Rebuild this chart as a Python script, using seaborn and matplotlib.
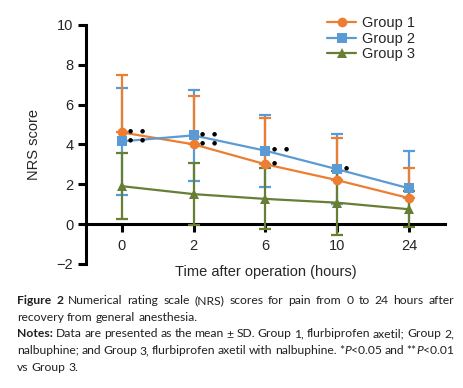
import matplotlib
matplotlib.use('Agg')
import matplotlib.pyplot as plt
import numpy as np
import pandas as pd
import seaborn as sns

# data (mean and SD of NRS score)
times = ['0', '2', '6', '10', '24']
groups = ['Group 1', 'Group 2', 'Group 3']
g1_mean = [4.6, 4.0, 3.0, 2.2, 1.3]
g1_sd = [2.9, 2.45, 2.3, 2.1, 1.5]
g2_mean = [4.15, 4.45, 3.68, 2.75, 1.79]
g2_sd = [2.67, 2.3, 1.8, 1.75, 1.9]
g3_mean = [1.9, 1.5, 1.26, 1.07, 0.74]
g3_sd = [1.65, 1.55, 1.53, 1.6, 0.9]
# significance vs group 3
stars_g1 = ['**', '**', '*', '', '']
stars_g2 = ['**', '**', '**', '*', '']

orange = '#ED7D31'
blue = '#5B9BD5'
green = '#667F35'

sns.set_style('ticks')
plt.rcParams['font.family'] = ['Liberation Sans', 'DejaVu Sans']

fig = plt.figure(figsize=(4.64, 3.88), dpi=100)
ax = fig.add_axes([0.185, 0.320, 0.774, 0.616])

pos = np.arange(len(times))

# error bars (group 1 only drawn above)
ax.errorbar(pos, g2_mean, yerr=g2_sd, fmt='none', ecolor=blue, elinewidth=1.6,
            capsize=4, capthick=1.6, zorder=2)
ax.errorbar(pos, g1_mean, yerr=[np.zeros(len(pos)), g1_sd], fmt='none', ecolor=orange,
            elinewidth=1.6, capsize=4, capthick=1.6, zorder=3)
ax.errorbar(pos, g3_mean, yerr=g3_sd, fmt='none', ecolor=green, elinewidth=1.6,
            capsize=4, capthick=1.6, zorder=4)

df = pd.DataFrame({
    'pos': np.tile(pos, 3),
    'score': g1_mean + g2_mean + g3_mean,
    'group': np.repeat(groups, len(pos)),
})
sns.lineplot(data=df, x='pos', y='score', hue='group', style='group',
             markers=['o', 's', '^'], dashes=False, palette=[orange, blue, green],
             markersize=7, linewidth=1.6, markeredgewidth=0, ax=ax, zorder=5)

# significance marks (asterisks print as small dots in the original)
for means, stars in [(g1_mean, stars_g1), (g2_mean, stars_g2)]:
    for i, s in enumerate(stars):
        for k in range(len(s)):
            ax.text(pos[i] + 0.12 + k * 0.167, means[i] + 0.08, '\u25cf', fontsize=4.3,
                    ha='center', va='center', color='black', zorder=6,
                    family=['DejaVu Sans'])

ax.set_xlim(-0.5, 4.5)
ax.set_ylim(-2, 10)
ax.set_xticks(pos)
ax.set_xticklabels(times)
ax.set_yticks([-2, 0, 2, 4, 6, 8, 10])

ax.spines['right'].set_visible(False)
ax.spines['top'].set_visible(False)
ax.spines['bottom'].set_position(('data', 0))
for s in ['left', 'bottom']:
    ax.spines[s].set_linewidth(2.2)
    ax.spines[s].set_color('black')
ax.tick_params(axis='both', width=2.2, length=6, labelsize=10.5, color='black')
ax.tick_params(axis='x', pad=5)
ax.tick_params(axis='y', pad=3)

ax.set_xlabel('Time after operation (hours)', fontsize=10.5)
ax.set_ylabel('NRS score', fontsize=10.5)
ax.xaxis.set_label_coords(0.5, -0.005)
ax.yaxis.set_label_coords(-0.125, 0.5)

handles, labels = ax.get_legend_handles_labels()
ax.legend(handles, labels, loc='upper left', bbox_to_anchor=(0.705, 0.958),
          bbox_transform=fig.transFigure, frameon=False, fontsize=10.5,
          handlelength=2.0, handletextpad=0.4, labelspacing=0.1,
          borderaxespad=0, borderpad=0)

# caption below the chart (justified lines like the journal layout)
cap_size = 8.7
cap_lines = [
    ([('Figure 2', 'bold', 'normal'),
      (' Numerical rating scale (NRS) scores for pain from 0 to 24 hours after', 'normal', 'normal')], True),
    ([('recovery from general anesthesia.', 'normal', 'normal')], False),
    ([('Notes:', 'bold', 'normal'),
      (' Data are presented as the mean \u00b1 SD. Group 1, flurbiprofen axetil; Group 2,', 'normal', 'normal')], True),
    ([('nalbuphine; and Group 3, flurbiprofen axetil with nalbuphine. *', 'normal', 'normal'),
      ('P', 'normal', 'italic'), ('<0.05 and **', 'normal', 'normal'),
      ('P', 'normal', 'italic'), ('<0.01', 'normal', 'normal')], True),
    ([('vs Group 3.', 'normal', 'normal')], False),
]
renderer = fig.canvas.get_renderer()
cap_font = ['Lato', 'DejaVu Sans']
left, right = 17, 454


def run_text(txt, weight, style, y):
    return fig.text(0, y, txt, fontsize=cap_size, family=cap_font, weight=weight,
                    style=style, va='baseline', ha='left', color='#231F20')


t1 = run_text('a a', 'normal', 'normal', -1)
t2 = run_text('aa', 'normal', 'normal', -1)
space_w = t1.get_window_extent(renderer).width - t2.get_window_extent(renderer).width
t1.remove()
t2.remove()

baseline = 304
for parts, justify in cap_lines:
    y = 1 - baseline / 388
    words = []
    current = []
    for txt, weight, style in parts:
        pieces = txt.split(' ')
        for j, p in enumerate(pieces):
            if j > 0 and current:
                words.append(current)
                current = []
            if p:
                current.append((p, weight, style))
    if current:
        words.append(current)
    drawn = []
    total = 0
    for word in words:
        runs = []
        for p, weight, style in word:
            t = run_text(p, weight, style, y)
            w = t.get_window_extent(renderer).width
            runs.append((t, w))
            total += w
        drawn.append(runs)
    if justify and len(drawn) > 1:
        gap = (right - left - total) / (len(drawn) - 1)
    else:
        gap = space_w
    x = left
    for runs in drawn:
        for t, w in runs:
            t.set_x(x / 464)
            x += w
        x += gap
    baseline += 16.7

fig.savefig('out.png', dpi=100)
